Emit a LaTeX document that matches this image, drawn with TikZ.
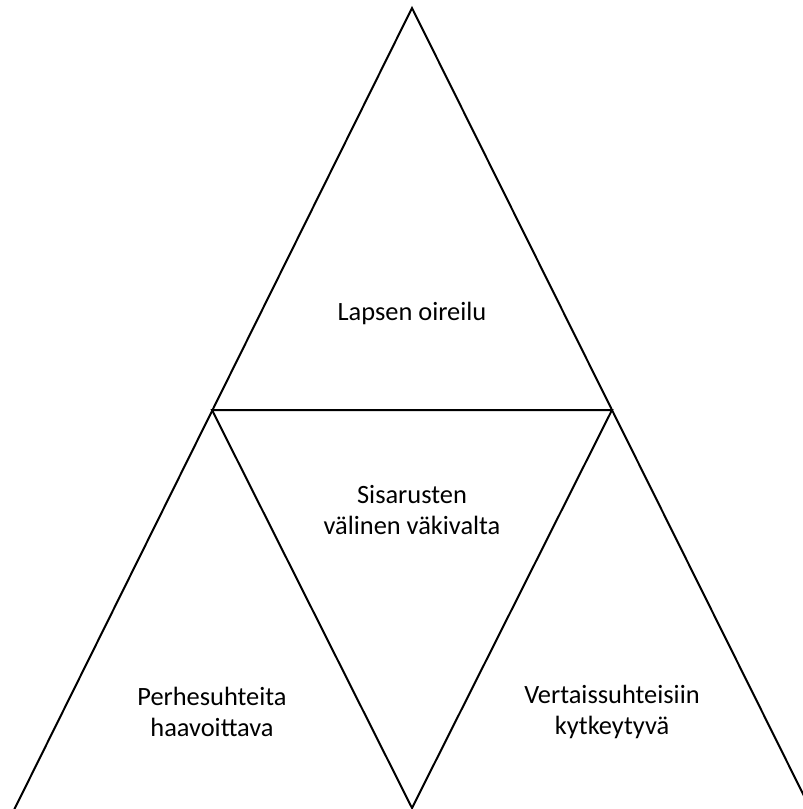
\documentclass[tikz,border=0pt]{standalone}
\usepackage{fontspec}
\setmainfont{Carlito}
\begin{document}
\begin{tikzpicture}[x=1pt,y=-1pt,
  edge/.style={line width=2pt,black,line join=miter},
  lbl/.style={align=center,font=\fontsize{26.4}{31}\selectfont,inner sep=0pt}]
\useasboundingbox (0,0) rectangle (803,809);
\clip (0,0) rectangle (803,809);
\coordinate (apex) at (412,8);
\coordinate (bl) at (13,812);
\coordinate (br) at (812,812);
\coordinate (ml) at (212,410);
\coordinate (mr) at (612,410);
\coordinate (mb) at (412,808);
\draw[edge] (bl) -- (apex) -- (br);
\draw[edge] (mr) -- (ml) -- (mb) -- cycle;
\node[lbl] (top) at (412,313) {Lapsen oireilu};
\node[lbl] (mid) at (412,510) {Sisarusten\\välinen väkivalta};
\node[lbl] (left) at (212,712) {Perhesuhteita\\haavoittava};
\node[lbl] (right) at (612,712) {Vertaissuhteisiin\\kytkeytyvä};
\end{tikzpicture}
\end{document}
